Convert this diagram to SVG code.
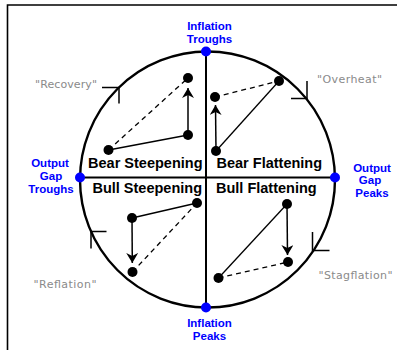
<svg xmlns="http://www.w3.org/2000/svg" width="397" height="350" viewBox="0 0 397 350">
<style>
.frame{fill:none;stroke:#000;stroke-width:1.6}
.circ{fill:none;stroke:#000;stroke-width:2.4}
.axis{stroke:#000;stroke-width:2}
.tick{fill:none;stroke:#000;stroke-width:1.5}
.solid{stroke:#000;stroke-width:1.3;fill:none}
.dash{stroke:#000;stroke-width:1.3;stroke-dasharray:5,4;fill:none}
.arrow{stroke:#000;stroke-width:1.5;fill:none;marker-end:url(#ah)}
.dot{fill:#000}
.bdot{fill:#0000ff}
.blue{font-family:"Liberation Sans",Arial,sans-serif;font-weight:bold;font-size:11.5px;fill:#0000ff;text-anchor:middle}
.quad{font-family:"Liberation Sans",Arial,sans-serif;font-weight:bold;font-size:14.5px;fill:#000}
.gray{font-family:"DejaVu Sans","Liberation Sans",sans-serif;font-size:11px;fill:#8a8a8a}
</style>
<defs>
<marker id="ah" viewBox="0 0 10 12" refX="10" refY="6" markerWidth="10" markerHeight="12" markerUnits="userSpaceOnUse" orient="auto">
<path d="M0,0 L10,6 L0,12 L3,6 Z" fill="#000"/>
</marker>
</defs>
<rect width="397" height="350" fill="#fff"/>
<path class="frame" d="M7.5,350 V5 H397"/>

<g id="cycle">
<ellipse class="circ" cx="207.5" cy="179.5" rx="127.5" ry="128"/>
<line class="axis" x1="206" y1="51.5" x2="206" y2="307.5"/>
<line class="axis" x1="80" y1="177.5" x2="335" y2="177.5"/>
</g>

<g id="ticks">
<path class="tick" d="M102,87.5 H119 V103.5"/>
<path class="tick" d="M291,98.5 H307 V81"/>
<path class="tick" d="M106.5,231.5 H91 V248.5"/>
<path class="tick" d="M312.5,232 V250.5 H329.5"/>
</g>

<g id="connectors">
<line class="solid" x1="108.5" y1="150" x2="188" y2="135"/>
<line class="dash" x1="108.5" y1="150" x2="188" y2="78"/>
<line class="arrow" x1="188" y1="135" x2="188" y2="88"/>

<line class="solid" x1="216" y1="151" x2="279" y2="81"/>
<line class="dash" x1="215" y1="97" x2="279" y2="81"/>
<line class="arrow" x1="216" y1="151" x2="215.5" y2="105"/>

<line class="solid" x1="132" y1="218" x2="197" y2="203"/>
<line class="dash" x1="132.5" y1="272" x2="197" y2="203"/>
<line class="arrow" x1="132" y1="218" x2="132.3" y2="263"/>

<line class="solid" x1="287" y1="204" x2="218.5" y2="278"/>
<line class="dash" x1="218.5" y1="278" x2="288" y2="262"/>
<line class="arrow" x1="287" y1="204" x2="287.5" y2="255"/>
</g>

<g id="dots">
<circle class="dot" cx="108.5" cy="150" r="5"/>
<circle class="dot" cx="188" cy="135" r="5"/>
<circle class="dot" cx="188" cy="78" r="5"/>
<circle class="dot" cx="279" cy="81" r="5"/>
<circle class="dot" cx="215" cy="97" r="5"/>
<circle class="dot" cx="216" cy="151" r="5"/>
<circle class="dot" cx="132" cy="218" r="5"/>
<circle class="dot" cx="197" cy="203" r="5"/>
<circle class="dot" cx="132.5" cy="272" r="5"/>
<circle class="dot" cx="287" cy="204" r="5"/>
<circle class="dot" cx="288" cy="262" r="5"/>
<circle class="dot" cx="218.5" cy="278" r="5"/>
</g>

<g id="inflation-troughs">
<circle class="bdot" cx="206" cy="51.5" r="5"/>
<text class="blue" x="209.5" y="30">Inflation</text>
<text class="blue" x="209.5" y="42.5">Troughs</text>
</g>
<g id="inflation-peaks">
<circle class="bdot" cx="206" cy="307.5" r="5"/>
<text class="blue" x="209.5" y="327">Inflation</text>
<text class="blue" x="209.5" y="339.5">Peaks</text>
</g>
<g id="output-gap-troughs">
<circle class="bdot" cx="80" cy="177.5" r="5"/>
<text class="blue" x="50" y="167">Output</text>
<text class="blue" x="51" y="180">Gap</text>
<text class="blue" x="51" y="193">Troughs</text>
</g>
<g id="output-gap-peaks">
<circle class="bdot" cx="335" cy="177.5" r="5"/>
<text class="blue" x="372" y="171.5">Output</text>
<text class="blue" x="370" y="184">Gap</text>
<text class="blue" x="372" y="196.5">Peaks</text>
</g>

<g id="quadrants">
<text class="quad" x="202.5" y="168" text-anchor="end">Bear Steepening</text>
<text class="quad" x="216.5" y="168">Bear Flattening</text>
<text class="quad" x="202" y="192.5" text-anchor="end">Bull Steepening</text>
<text class="quad" x="216" y="192.5">Bull Flattening</text>
</g>

<g id="phases">
<text class="gray" x="35" y="88" textLength="62" lengthAdjust="spacing">"Recovery"</text>
<text class="gray" x="317" y="83" textLength="65" lengthAdjust="spacing">"Overheat"</text>
<text class="gray" x="33.5" y="288" textLength="63" lengthAdjust="spacing">"Reflation"</text>
<text class="gray" x="318.5" y="278.5" textLength="74" lengthAdjust="spacing">"Stagflation"</text>
</g>
</svg>
